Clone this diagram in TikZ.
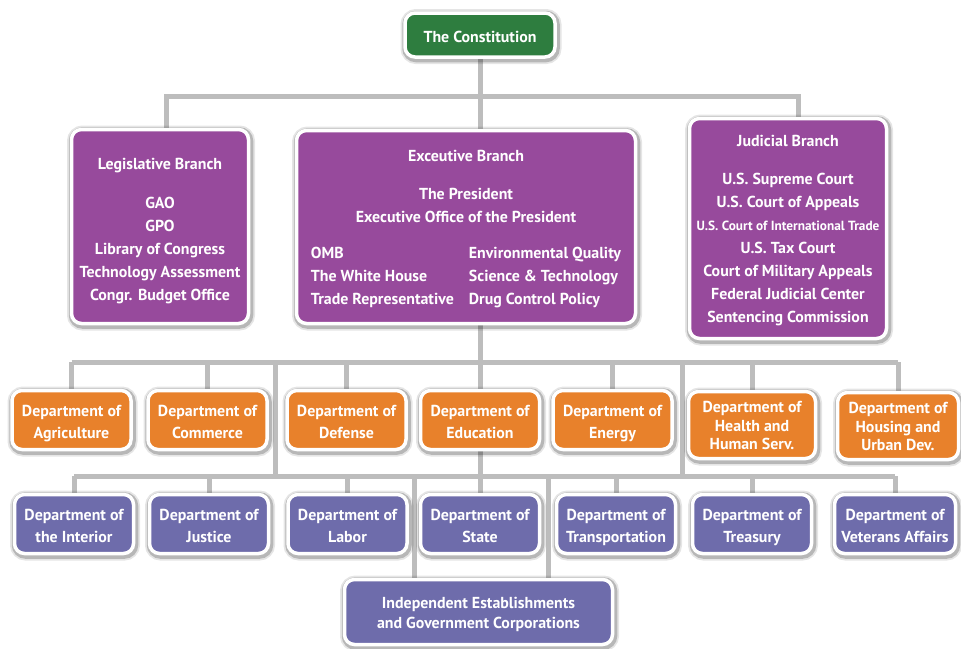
\documentclass[tikz,border=0pt]{standalone}
\usepackage{fontspec}
\setmainfont{PT Sans}
\definecolor{cgreen}{HTML}{2E7D3F}
\definecolor{cpurple}{HTML}{974A9C}
\definecolor{corange}{HTML}{E8812B}
\definecolor{cblue}{HTML}{6E6CAB}
\definecolor{cline}{HTML}{BDBDBD}
\newcommand\liftline[1]{\rule{0pt}{#1}}
\pgfdeclarelayer{bg}
\pgfsetlayers{bg,main}
\begin{document}
\begin{tikzpicture}[x=1pt,y=-1pt,
  halo/.style={
    preaction={draw=black, fill=none, draw opacity=0.10, line width=11pt,
      transform canvas={shift={(1pt,-1.5pt)}}},
    preaction={draw=black, fill=none, draw opacity=0.20, line width=7.5pt,
      transform canvas={shift={(1pt,-1.5pt)}}}},
  orgbox/.style={halo, draw=white, line width=3.5pt, rounded corners=10pt, text=white,
    font=\fontsize{15.9}{23}\selectfont\bfseries, align=center, inner sep=0pt},
  branch/.style={orgbox, fill=cpurple},
  dept/.style={orgbox, fill=corange, minimum width=119pt, minimum height=59pt,
    font=\fontsize{15.9}{22}\selectfont\bfseries, execute at end node={\vphantom{g}}},
  dept3/.style={dept, minimum height=67pt, font=\fontsize{15.9}{18.5}\selectfont\bfseries},
  ldept/.style={dept, fill=cblue},
  conn/.style={draw=cline, line width=5pt}]
\useasboundingbox (0,0) rectangle (961,648);

% top
\node[orgbox, fill=cgreen, minimum width=150pt, minimum height=44pt] (const) at (480,35) {\liftline{15.5pt}The Constitution};
\node[branch, minimum width=177pt, minimum height=194pt] (leg) at (160,226.5)
  {\liftline{19.5pt}Legislative Branch\\[16pt]GAO\\GPO\\Library of Congress\\Technology Assessment\\Congr. Budget Office};
\node[branch, minimum width=339pt, minimum height=193pt] (exec) at (466,227)
  {\liftline{19.5pt}Exceutive Branch\\[15pt]The President\\Executive Office of the President\\[13pt]
   \begin{tabular}[t]{@{}p{158pt}@{}l@{}}OMB & Environmental Quality\\The White House & Science \& Technology\\Trade Representative & Drug Control Policy\end{tabular}};
\node[branch, minimum width=197pt, minimum height=220pt] (jud) at (788,228.5)
  {\liftline{15.5pt}Judicial Branch\\[15pt]U.S. Supreme Court\\U.S. Court of Appeals\\{\fontsize{13.3}{23}\selectfont U.S. Court of International Trade}\\U.S. Tax Court\\Court of Military Appeals\\Federal Judicial Center\\Sentencing Commission};

% orange row
\node[dept] (agri) at (71.5,420) {\liftline{17.5pt}Department of\\Agriculture};
\node[dept] (comm) at (207.5,420) {\liftline{17.5pt}Department of\\Commerce};
\node[dept] (def) at (346.5,420) {\liftline{17.5pt}Department of\\Defense};
\node[dept] (edu) at (480,420) {\liftline{17.5pt}Department of\\Education};
\node[dept] (ener) at (612.5,420) {\liftline{17.5pt}Department of\\Energy};
\node[dept3, minimum width=127pt] (health) at (752,425) {\liftline{15.5pt}Department of\\Health and\\Human Serv.};
\node[dept3, minimum width=121pt] (housing) at (898,426) {\liftline{15.5pt}Department of\\Housing and\\Urban Dev.};

% blue row
\node[ldept] (inter) at (74,524) {\liftline{17.5pt}Department of\\the Interior};
\node[ldept] (just) at (209,524) {\liftline{17.5pt}Department of\\Justice};
\node[ldept] (labor) at (347.5,524) {\liftline{17.5pt}Department of\\Labor};
\node[ldept] (state) at (480,524) {\liftline{17.5pt}Department of\\State};
\node[ldept] (transp) at (616,524) {\liftline{17.5pt}Department of\\Transportation};
\node[ldept] (treas) at (752,524) {\liftline{17.5pt}Department of\\Treasury};
\node[ldept, minimum width=121pt] (vet) at (895,524) {\liftline{17.5pt}Department of\\Veterans Affairs};
\node[ldept, minimum width=268pt, minimum height=65pt, font=\fontsize{15.9}{20}\selectfont\bfseries] (indep) at (478.5,612)
  {\liftline{15.5pt}Independent Establishments\\and Government Corporations};

% connector junctions
\coordinate (tL) at (166,96);
\coordinate (tR) at (798,96);
\coordinate (ub) at (480,362);
\coordinate (lb) at (480,476);
\coordinate (v1) at (275,362);
\coordinate (v2) at (682,362);
\coordinate (i1) at (414,476);
\coordinate (i2) at (548,476);

\begin{pgfonlayer}{bg}
  \draw[conn] (const.south) -- (const.south |- exec.north);
  \draw[conn] (leg.north -| tL) -- (tL) -- (tR) -- (jud.north -| tR);
  \draw[conn] (exec.south -| const.south) -- (state.north);
  \draw[conn] (agri.north |- ub) -- (housing.north |- ub);
  \foreach \n in {agri,comm,def,ener,health,housing}
    \draw[conn] (\n.north) -- (\n.north |- ub);
  \draw[conn] (v1) -- (v1 |- lb);
  \draw[conn] (v2) -- (v2 |- lb);
  \draw[conn] (inter.north |- lb) -- (vet.north |- lb);
  \foreach \n in {inter,just,labor,transp,treas,vet}
    \draw[conn] (\n.north) -- (\n.north |- lb);
  \draw[conn] (i1) -- (i1 |- indep.north);
  \draw[conn] (i2) -- (i2 |- indep.north);
\end{pgfonlayer}
\end{tikzpicture}
\end{document}
